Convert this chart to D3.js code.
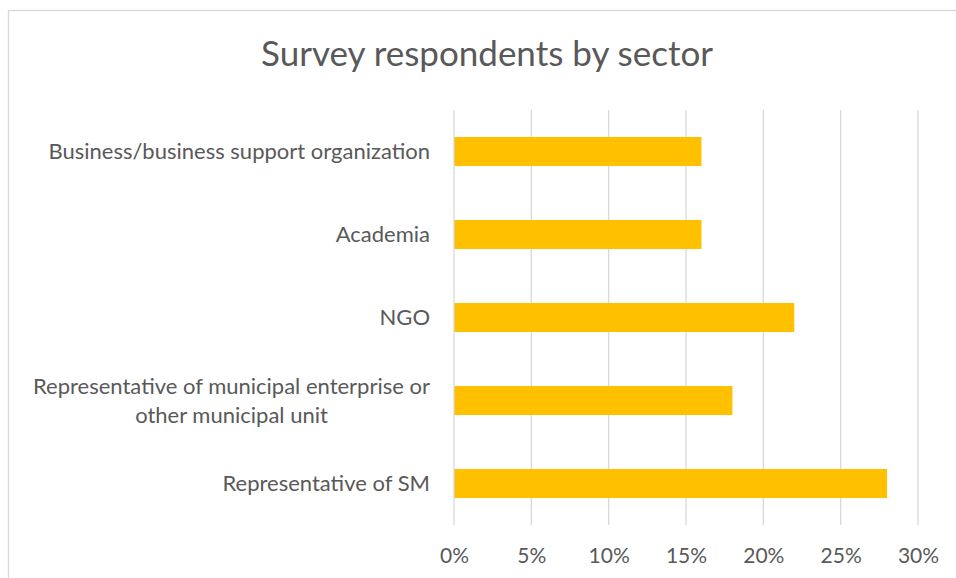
<!DOCTYPE html>
<html>
<head>
<meta charset="utf-8">
<script src="https://cdn.jsdelivr.net/npm/d3@7"></script>
<style>
  html, body { margin: 0; padding: 0; background: #fff; }
  svg { display: block; font-family: Lato, "Open Sans", sans-serif; }
</style>
</head>
<body>
<svg id="chart" width="956" height="578"></svg>
<script>
// Share of survey respondents per sector (top to bottom)
const categories = [
  "Business/business support organization",
  "Academia",
  "NGO",
  "Representative of municipal enterprise or other municipal unit",
  "Representative of SM"
];
const shares = [0.16, 0.16, 0.22, 0.18, 0.28];
const tickValues = [0, 0.05, 0.10, 0.15, 0.20, 0.25, 0.30];
const title = "Survey respondents by sector";

const svg = d3.select("#chart");
const textColor = "#595959";
const gridColor = "#d9d9d9";

// chart frame
svg.append("rect")
  .attr("x", 8.5).attr("y", 10.5)
  .attr("width", 1000).attr("height", 1000)
  .attr("fill", "#fff").attr("stroke", gridColor).attr("stroke-width", 1.3);

const plot = { left: 454, right: 918, top: 110, bottom: 525 };

const x = d3.scaleLinear().domain([0, 0.30]).range([plot.left, plot.right]);
const y = d3.scaleBand().domain(categories).range([plot.top, plot.bottom]).paddingInner(0.65).paddingOuter(0.325);

// title
svg.append("text")
  .attr("x", 487).attr("y", 66)
  .attr("text-anchor", "middle")
  .attr("font-size", 35)
  .attr("fill", textColor)
  .text(title);

// vertical gridlines
svg.append("g").selectAll("line")
  .data(tickValues.slice(1))
  .join("line")
  .attr("x1", d => x(d)).attr("x2", d => x(d))
  .attr("y1", plot.top).attr("y2", plot.bottom)
  .attr("stroke", gridColor).attr("stroke-width", 1.3);

// bars
svg.append("g").selectAll("rect")
  .data(categories)
  .join("rect")
  .attr("x", x(0))
  .attr("y", d => y(d))
  .attr("width", (d, i) => x(shares[i]) - x(0))
  .attr("height", y.bandwidth())
  .attr("fill", "#FFC000");

// value axis line at 0%
svg.append("line")
  .attr("x1", x(0)).attr("x2", x(0))
  .attr("y1", plot.top).attr("y2", plot.bottom)
  .attr("stroke", gridColor).attr("stroke-width", 1.3);

// x axis tick labels
const xAxis = d3.axisBottom(x).tickValues(tickValues).tickFormat(d3.format(".0%")).tickSize(0).tickPadding(0);
const gx = svg.append("g").attr("transform", `translate(0,${plot.bottom})`).call(xAxis);
gx.select(".domain").remove();
gx.selectAll("text")
  .attr("y", 38).attr("dy", null)
  .attr("font-size", 21)
  .attr("font-family", "Lato, 'Open Sans', sans-serif")
  .attr("fill", textColor);

// category labels, wrapped to a max width, lines centred within the block
const labelRight = 430;
const maxWidth = 420;
const lineHeight = 29;
const gy = svg.append("g");
categories.forEach(cat => {
  const t = gy.append("text")
    .attr("font-size", 22)
    .attr("fill", textColor)
    .attr("text-anchor", "middle");
  const words = cat.split(" ");
  const lines = [];
  let cur = [];
  const probe = t.append("tspan");
  words.forEach(w => {
    const trial = cur.concat([w]).join(" ");
    probe.text(trial);
    if (probe.node().getComputedTextLength() > maxWidth && cur.length) {
      lines.push(cur.join(" "));
      cur = [w];
    } else {
      cur.push(w);
    }
  });
  lines.push(cur.join(" "));
  let blockW = 0;
  lines.forEach(l => { probe.text(l); blockW = Math.max(blockW, probe.node().getComputedTextLength()); });
  probe.remove();
  const cy = y(cat) + y.bandwidth() / 2;
  const cx = labelRight - blockW / 2;
  lines.forEach((l, i) => {
    t.append("tspan")
      .attr("x", cx)
      .attr("y", cy + (i - (lines.length - 1) / 2) * lineHeight + 7.5)
      .text(l);
  });
});
</script>
</body>
</html>
